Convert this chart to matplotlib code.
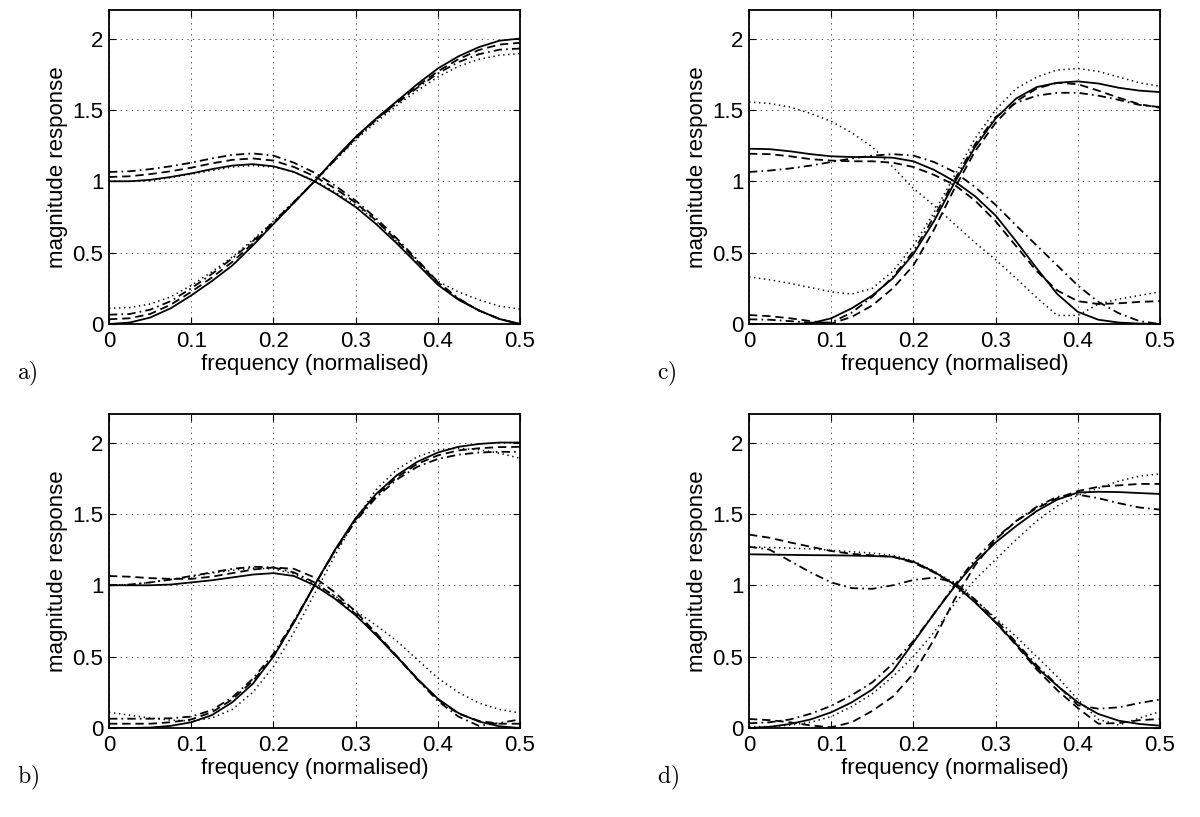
import matplotlib
matplotlib.use("Agg")
import matplotlib.pyplot as plt

plt.rcParams['font.family'] = ['Liberation Sans', 'DejaVu Sans']
plt.rcParams['mathtext.fontset'] = 'cm'
plt.rcParams['lines.scale_dashes'] = False

# ---------------- data ----------------
freq = [0.0, 0.025, 0.05, 0.075, 0.1, 0.125, 0.15, 0.175, 0.2, 0.225, 0.25,
        0.275, 0.3, 0.325, 0.35, 0.375, 0.4, 0.425, 0.45, 0.475, 0.5]

xtick_vals = [0, 0.1, 0.2, 0.3, 0.4, 0.5]
xtick_labels = ['0', '0.1', '0.2', '0.3', '0.4', '0.5']
ytick_vals = [0, 0.5, 1, 1.5, 2]
ytick_labels = ['0', '0.5', '1', '1.5', '2']
panel_names = ['a)', 'b)', 'c)', 'd)']

# panel a
a_lp_solid = [1.00, 1.00, 1.01, 1.03, 1.055, 1.085, 1.11, 1.12, 1.105, 1.065, 1.00, 0.915, 0.82, 0.70, 0.565, 0.42, 0.275, 0.17, 0.095, 0.035, 0.0]
a_lp_dash = [1.03, 1.035, 1.05, 1.07, 1.095, 1.125, 1.15, 1.16, 1.145, 1.10, 1.035, 0.95, 0.85, 0.725, 0.585, 0.44, 0.29, 0.175, 0.095, 0.035, 0.0]
a_lp_dashdot = [1.065, 1.07, 1.085, 1.105, 1.13, 1.16, 1.185, 1.195, 1.18, 1.13, 1.06, 0.97, 0.865, 0.74, 0.60, 0.45, 0.295, 0.18, 0.095, 0.035, 0.0]
a_lp_dot = [1.0, 1.0, 1.005, 1.025, 1.05, 1.075, 1.10, 1.11, 1.10, 1.065, 1.005, 0.925, 0.835, 0.72, 0.58, 0.44, 0.30, 0.225, 0.17, 0.125, 0.105]
a_hp_solid = [0.0, 0.01, 0.045, 0.11, 0.20, 0.30, 0.41, 0.55, 0.70, 0.85, 1.00, 1.16, 1.31, 1.44, 1.56, 1.68, 1.79, 1.875, 1.94, 1.985, 2.0]
a_hp_dash = [0.033, 0.04, 0.07, 0.135, 0.225, 0.325, 0.435, 0.565, 0.705, 0.85, 1.0, 1.155, 1.305, 1.435, 1.55, 1.665, 1.77, 1.855, 1.92, 1.958, 1.97]
a_hp_dashdot = [0.065, 0.07, 0.10, 0.16, 0.25, 0.35, 0.46, 0.58, 0.715, 0.855, 1.0, 1.15, 1.30, 1.43, 1.545, 1.655, 1.755, 1.835, 1.89, 1.922, 1.93]
a_hp_dot = [0.11, 0.115, 0.14, 0.19, 0.27, 0.365, 0.47, 0.59, 0.72, 0.86, 1.0, 1.145, 1.29, 1.415, 1.53, 1.635, 1.73, 1.805, 1.855, 1.883, 1.895]

# panel b
b_lp_solid = [1.0, 1.0, 1.0, 1.005, 1.02, 1.035, 1.055, 1.075, 1.085, 1.065, 1.0, 0.905, 0.79, 0.65, 0.50, 0.345, 0.205, 0.105, 0.045, 0.012, 0.0]
b_lp_dash = [1.065, 1.06, 1.05, 1.045, 1.045, 1.06, 1.085, 1.11, 1.125, 1.115, 1.055, 0.95, 0.815, 0.665, 0.505, 0.345, 0.2, 0.1, 0.05, 0.03, 0.03]
b_lp_dashdot = [1.0, 1.005, 1.02, 1.04, 1.065, 1.09, 1.115, 1.13, 1.125, 1.09, 1.02, 0.92, 0.80, 0.655, 0.50, 0.34, 0.19, 0.08, 0.015, 0.035, 0.06]
b_lp_dot = [1.0, 1.005, 1.02, 1.04, 1.06, 1.085, 1.105, 1.12, 1.115, 1.08, 1.01, 0.925, 0.82, 0.72, 0.61, 0.48, 0.35, 0.25, 0.175, 0.13, 0.105]
b_hp_solid = [0.0, 0.0, 0.003, 0.015, 0.04, 0.09, 0.18, 0.31, 0.50, 0.74, 1.0, 1.25, 1.47, 1.64, 1.77, 1.865, 1.93, 1.97, 1.99, 2.0, 2.0]
b_hp_dash = [0.03, 0.03, 0.03, 0.04, 0.06, 0.11, 0.20, 0.33, 0.50, 0.74, 1.0, 1.245, 1.46, 1.63, 1.755, 1.85, 1.91, 1.945, 1.96, 1.968, 1.97]
b_hp_dashdot = [0.065, 0.065, 0.065, 0.068, 0.08, 0.125, 0.215, 0.345, 0.52, 0.75, 1.0, 1.24, 1.45, 1.615, 1.74, 1.83, 1.885, 1.915, 1.93, 1.935, 1.935]
b_hp_dot = [0.11, 0.09, 0.07, 0.055, 0.05, 0.07, 0.13, 0.25, 0.43, 0.67, 0.94, 1.21, 1.46, 1.67, 1.81, 1.90, 1.95, 1.96, 1.95, 1.925, 1.89]

# panel c
c_lp_solid = [1.228, 1.225, 1.21, 1.19, 1.175, 1.17, 1.17, 1.165, 1.14, 1.08, 1.0, 0.895, 0.76, 0.58, 0.39, 0.21, 0.085, 0.03, 0.01, 0.003, 0.0]
c_lp_dash = [1.193, 1.19, 1.175, 1.155, 1.145, 1.14, 1.14, 1.13, 1.10, 1.045, 0.975, 0.865, 0.72, 0.545, 0.37, 0.235, 0.16, 0.14, 0.145, 0.155, 0.16]
c_lp_dashdot = [1.065, 1.075, 1.09, 1.11, 1.135, 1.16, 1.18, 1.19, 1.18, 1.135, 1.065, 0.96, 0.835, 0.69, 0.55, 0.41, 0.27, 0.155, 0.075, 0.02, 0.0]
c_lp_dot = [1.555, 1.545, 1.52, 1.475, 1.42, 1.34, 1.24, 1.10, 0.95, 0.83, 0.70, 0.57, 0.45, 0.32, 0.185, 0.06, 0.06, 0.14, 0.175, 0.20, 0.225]
c_hp_solid = [0.0, 0.0, 0.0, 0.005, 0.04, 0.11, 0.20, 0.32, 0.49, 0.72, 0.99, 1.24, 1.44, 1.58, 1.66, 1.69, 1.70, 1.685, 1.655, 1.635, 1.625]
c_hp_dash = [0.063, 0.055, 0.04, 0.02, 0.003, 0.05, 0.13, 0.25, 0.41, 0.66, 0.95, 1.21, 1.41, 1.56, 1.65, 1.69, 1.68, 1.635, 1.585, 1.54, 1.515]
c_hp_dashdot = [0.033, 0.03, 0.02, 0.01, 0.01, 0.08, 0.19, 0.33, 0.51, 0.75, 1.01, 1.26, 1.45, 1.55, 1.60, 1.62, 1.62, 1.60, 1.57, 1.535, 1.52]
c_hp_dot = [0.33, 0.31, 0.285, 0.255, 0.225, 0.21, 0.25, 0.37, 0.55, 0.78, 1.04, 1.30, 1.50, 1.65, 1.73, 1.78, 1.79, 1.77, 1.73, 1.69, 1.665]

# panel d
d_lp_solid = [1.217, 1.215, 1.213, 1.211, 1.21, 1.208, 1.205, 1.20, 1.165, 1.095, 1.005, 0.88, 0.74, 0.587, 0.424, 0.296, 0.18, 0.098, 0.051, 0.028, 0.016]
d_lp_dash = [1.355, 1.333, 1.30, 1.27, 1.24, 1.22, 1.21, 1.20, 1.158, 1.09, 1.005, 0.885, 0.74, 0.58, 0.41, 0.265, 0.14, 0.03, 0.035, 0.055, 0.063]
d_lp_dashdot = [1.27, 1.25, 1.17, 1.09, 1.02, 0.98, 0.975, 1.0, 1.037, 1.054, 1.02, 0.90, 0.76, 0.60, 0.44, 0.30, 0.16, 0.135, 0.145, 0.175, 0.20]
d_lp_dot = [1.27, 1.265, 1.26, 1.255, 1.245, 1.235, 1.225, 1.21, 1.17, 1.10, 1.015, 0.90, 0.77, 0.64, 0.50, 0.36, 0.20, 0.06, 0.02, 0.07, 0.115]
d_hp_solid = [0.0, 0.008, 0.028, 0.06, 0.11, 0.18, 0.27, 0.40, 0.60, 0.80, 0.99, 1.16, 1.30, 1.415, 1.52, 1.60, 1.65, 1.655, 1.653, 1.646, 1.64]
d_hp_dash = [0.063, 0.055, 0.04, 0.018, 0.005, 0.04, 0.12, 0.22, 0.38, 0.62, 0.90, 1.14, 1.32, 1.45, 1.54, 1.61, 1.66, 1.69, 1.70, 1.71, 1.71]
d_hp_dashdot = [0.033, 0.04, 0.06, 0.10, 0.155, 0.23, 0.32, 0.45, 0.61, 0.80, 1.0, 1.18, 1.33, 1.45, 1.55, 1.62, 1.635, 1.61, 1.575, 1.545, 1.53]
d_hp_dot = [0.01, 0.01, 0.02, 0.04, 0.08, 0.15, 0.24, 0.36, 0.50, 0.67, 0.87, 1.04, 1.18, 1.32, 1.45, 1.555, 1.63, 1.68, 1.73, 1.765, 1.78]

panels = {
    'a)': [a_lp_solid, a_lp_dash, a_lp_dashdot, a_lp_dot, a_hp_solid, a_hp_dash, a_hp_dashdot, a_hp_dot],
    'b)': [b_lp_solid, b_lp_dash, b_lp_dashdot, b_lp_dot, b_hp_solid, b_hp_dash, b_hp_dashdot, b_hp_dot],
    'c)': [c_lp_solid, c_lp_dash, c_lp_dashdot, c_lp_dot, c_hp_solid, c_hp_dash, c_hp_dashdot, c_hp_dot],
    'd)': [d_lp_solid, d_lp_dash, d_lp_dashdot, d_lp_dot, d_hp_solid, d_hp_dash, d_hp_dashdot, d_hp_dot],
}

# ---------------- styling / layout ----------------
line_styles = ['-', (0, (6, 3.5)), (0, (6, 3, 1.2, 3)), (0, (1, 2.6))]
W, H = 1200, 817
ax_w, ax_h = 411, 314
positions = {  # left, top in pixels
    'a)': (109, 10),
    'c)': (749, 10),
    'b)': (109, 414),
    'd)': (749, 414),
}

fig = plt.figure(figsize=(12, 8.17), dpi=100)

for name in panel_names:
    left, top = positions[name]
    ax = fig.add_axes([left / W, (H - top - ax_h) / H, ax_w / W, ax_h / H])
    series = panels[name]
    for i, ys in enumerate(series):
        ls = line_styles[i % 4]
        ax.plot(freq, ys, color='black', linestyle=ls,
                linewidth=1.3 if i % 4 != 3 else 1.1)
    ax.set_xlim(0, 0.5)
    ax.set_ylim(0, 2.2)
    ax.set_xticks(xtick_vals)
    ax.set_xticklabels(xtick_labels)
    ax.set_yticks(ytick_vals)
    ax.set_yticklabels(ytick_labels)
    ax.grid(True, color='0.25', linestyle=(0, (1, 3)), linewidth=0.6)
    ax.tick_params(direction='in', top=True, right=True, length=5, width=0.8,
                   labelsize=16, colors='black')
    ax.tick_params(axis='x', pad=5)
    ax.tick_params(axis='y', pad=4)
    for sp in ax.spines.values():
        sp.set_linewidth(1.3)
        sp.set_color('black')
    ax.set_xlabel('frequency (normalised)', fontsize=16)
    ax.set_ylabel('magnitude response', fontsize=16)
    ax.xaxis.set_label_coords(0.5, -0.095)
    ax.yaxis.set_label_coords(-0.1, 0.5)
    fig.text((left - 92) / W, 1 - (top + ax_h + 50) / H, r'$\mathrm{' + name + '}$',
             ha='left', va='center', fontsize=17)

fig.savefig('out.png', dpi=100)
